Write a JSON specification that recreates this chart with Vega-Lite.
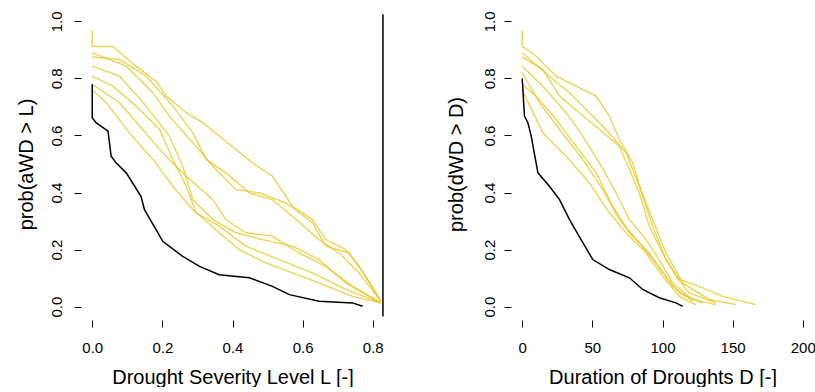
{
  "$schema": "https://vega.github.io/schema/vega-lite/v6.json",
  "padding": {"left": 15, "top": 10, "right": 0, "bottom": 0},
  "background": "white",
  "spacing": 62,
  "config": {
    "view": {"stroke": null},
    "font": "Liberation Sans",
    "axis": {
      "domain": false, "grid": false, "tickColor": "black", "tickSize": 7, "tickWidth": 1,
      "labelColor": "black", "titleColor": "black", "labelFontSize": 15, "titleFontSize": 20,
      "titleFontWeight": "normal", "labelFont": "Liberation Sans", "titleFont": "Liberation Sans"
    }
  },
  "datasets": {
    "sev": [
      {"c":"s1","x":0,"p":0.97},{"c":"s1","x":0,"p":0.913},{"c":"s1","x":0.059,"p":0.912},{"c":"s1","x":0.125,"p":0.843},{"c":"s1","x":0.182,"p":0.79},{"c":"s1","x":0.211,"p":0.738},{"c":"s1","x":0.268,"p":0.68},{"c":"s1","x":0.315,"p":0.645},{"c":"s1","x":0.362,"p":0.598},{"c":"s1","x":0.457,"p":0.504},{"c":"s1","x":0.514,"p":0.457},{"c":"s1","x":0.571,"p":0.352},{"c":"s1","x":0.628,"p":0.305},{"c":"s1","x":0.666,"p":0.235},{"c":"s1","x":0.723,"p":0.2},{"c":"s1","x":0.761,"p":0.141},{"c":"s1","x":0.823,"p":0.019},
      {"c":"s2","x":0,"p":0.89},{"c":"s2","x":0.097,"p":0.843},{"c":"s2","x":0.173,"p":0.75},{"c":"s2","x":0.22,"p":0.668},{"c":"s2","x":0.296,"p":0.562},{"c":"s2","x":0.344,"p":0.492},{"c":"s2","x":0.41,"p":0.41},{"c":"s2","x":0.476,"p":0.399},{"c":"s2","x":0.552,"p":0.364},{"c":"s2","x":0.628,"p":0.294},{"c":"s2","x":0.666,"p":0.212},{"c":"s2","x":0.733,"p":0.188},{"c":"s2","x":0.78,"p":0.106},{"c":"s2","x":0.823,"p":0.018},
      {"c":"s3","x":0,"p":0.843},{"c":"s3","x":0.078,"p":0.808},{"c":"s3","x":0.154,"p":0.703},{"c":"s3","x":0.22,"p":0.598},{"c":"s3","x":0.258,"p":0.492},{"c":"s3","x":0.287,"p":0.375},{"c":"s3","x":0.344,"p":0.305},{"c":"s3","x":0.41,"p":0.259},{"c":"s3","x":0.486,"p":0.235},{"c":"s3","x":0.571,"p":0.212},{"c":"s3","x":0.647,"p":0.165},{"c":"s3","x":0.723,"p":0.083},{"c":"s3","x":0.823,"p":0.013},
      {"c":"s4","x":0,"p":0.808},{"c":"s4","x":0.059,"p":0.773},{"c":"s4","x":0.125,"p":0.703},{"c":"s4","x":0.192,"p":0.621},{"c":"s4","x":0.23,"p":0.516},{"c":"s4","x":0.268,"p":0.422},{"c":"s4","x":0.296,"p":0.329},{"c":"s4","x":0.362,"p":0.282},{"c":"s4","x":0.438,"p":0.212},{"c":"s4","x":0.533,"p":0.165},{"c":"s4","x":0.628,"p":0.118},{"c":"s4","x":0.723,"p":0.06},{"c":"s4","x":0.823,"p":0.013},
      {"c":"s5","x":0,"p":0.78},{"c":"s5","x":0.078,"p":0.715},{"c":"s5","x":0.144,"p":0.621},{"c":"s5","x":0.201,"p":0.539},{"c":"s5","x":0.268,"p":0.457},{"c":"s5","x":0.344,"p":0.375},{"c":"s5","x":0.381,"p":0.305},{"c":"s5","x":0.438,"p":0.259},{"c":"s5","x":0.514,"p":0.247},{"c":"s5","x":0.59,"p":0.188},{"c":"s5","x":0.666,"p":0.141},{"c":"s5","x":0.742,"p":0.071},{"c":"s5","x":0.823,"p":0.012},
      {"c":"s6","x":0,"p":0.875},{"c":"s6","x":0.078,"p":0.867},{"c":"s6","x":0.154,"p":0.808},{"c":"s6","x":0.23,"p":0.703},{"c":"s6","x":0.287,"p":0.609},{"c":"s6","x":0.325,"p":0.516},{"c":"s6","x":0.381,"p":0.469},{"c":"s6","x":0.448,"p":0.399},{"c":"s6","x":0.514,"p":0.375},{"c":"s6","x":0.571,"p":0.317},{"c":"s6","x":0.647,"p":0.235},{"c":"s6","x":0.704,"p":0.188},{"c":"s6","x":0.761,"p":0.118},{"c":"s6","x":0.823,"p":0.019},
      {"c":"s7","x":0,"p":0.76},{"c":"s7","x":0.04,"p":0.715},{"c":"s7","x":0.106,"p":0.609},{"c":"s7","x":0.173,"p":0.516},{"c":"s7","x":0.23,"p":0.422},{"c":"s7","x":0.287,"p":0.34},{"c":"s7","x":0.362,"p":0.259},{"c":"s7","x":0.419,"p":0.2},{"c":"s7","x":0.495,"p":0.153},{"c":"s7","x":0.571,"p":0.118},{"c":"s7","x":0.647,"p":0.083},{"c":"s7","x":0.742,"p":0.036},{"c":"s7","x":0.823,"p":0.013},
      {"c":"obs","x":0,"p":0.78},{"c":"obs","x":0,"p":0.662},{"c":"obs","x":0.011,"p":0.645},{"c":"obs","x":0.045,"p":0.615},{"c":"obs","x":0.054,"p":0.527},{"c":"obs","x":0.068,"p":0.504},{"c":"obs","x":0.097,"p":0.469},{"c":"obs","x":0.139,"p":0.387},{"c":"obs","x":0.149,"p":0.34},{"c":"obs","x":0.187,"p":0.259},{"c":"obs","x":0.201,"p":0.229},{"c":"obs","x":0.258,"p":0.176},{"c":"obs","x":0.306,"p":0.141},{"c":"obs","x":0.362,"p":0.112},{"c":"obs","x":0.448,"p":0.101},{"c":"obs","x":0.514,"p":0.071},{"c":"obs","x":0.562,"p":0.042},{"c":"obs","x":0.647,"p":0.019},{"c":"obs","x":0.742,"p":0.013},{"c":"obs","x":0.771,"p":0.001},
      {"c":"max","x":0.829,"p":1.025},{"c":"max","x":0.829,"p":-0.035}
    ],
    "dur": [
      {"c":"s1","x":0,"p":0.97},{"c":"s1","x":0,"p":0.913},{"c":"s1","x":10,"p":0.878},{"c":"s1","x":24.2,"p":0.808},{"c":"s1","x":38.4,"p":0.773},{"c":"s1","x":52.7,"p":0.738},{"c":"s1","x":62.1,"p":0.668},{"c":"s1","x":69.3,"p":0.586},{"c":"s1","x":78.8,"p":0.504},{"c":"s1","x":85.9,"p":0.387},{"c":"s1","x":93,"p":0.282},{"c":"s1","x":102.5,"p":0.165},{"c":"s1","x":112,"p":0.095},{"c":"s1","x":126.2,"p":0.071},{"c":"s1","x":142.8,"p":0.036},{"c":"s1","x":166.5,"p":0.007},
      {"c":"s2","x":0,"p":0.89},{"c":"s2","x":19.4,"p":0.808},{"c":"s2","x":33.7,"p":0.75},{"c":"s2","x":47.9,"p":0.68},{"c":"s2","x":59.8,"p":0.621},{"c":"s2","x":74,"p":0.539},{"c":"s2","x":83.5,"p":0.422},{"c":"s2","x":93,"p":0.305},{"c":"s2","x":102.5,"p":0.188},{"c":"s2","x":114.4,"p":0.083},{"c":"s2","x":133.3,"p":0.025},{"c":"s2","x":152.3,"p":0.007},
      {"c":"s3","x":0,"p":0.843},{"c":"s3","x":14.7,"p":0.773},{"c":"s3","x":31.3,"p":0.68},{"c":"s3","x":43.2,"p":0.598},{"c":"s3","x":55,"p":0.504},{"c":"s3","x":66.9,"p":0.399},{"c":"s3","x":76.4,"p":0.305},{"c":"s3","x":88.3,"p":0.235},{"c":"s3","x":97.7,"p":0.165},{"c":"s3","x":107.3,"p":0.083},{"c":"s3","x":121.5,"p":0.025},{"c":"s3","x":138,"p":0.007},
      {"c":"s4","x":0,"p":0.78},{"c":"s4","x":10,"p":0.738},{"c":"s4","x":24.2,"p":0.656},{"c":"s4","x":38.4,"p":0.562},{"c":"s4","x":52.7,"p":0.469},{"c":"s4","x":64.6,"p":0.352},{"c":"s4","x":76.4,"p":0.259},{"c":"s4","x":90.6,"p":0.188},{"c":"s4","x":100.1,"p":0.118},{"c":"s4","x":112,"p":0.048},{"c":"s4","x":128.6,"p":0.013},
      {"c":"s5","x":0,"p":0.76},{"c":"s5","x":14.7,"p":0.609},{"c":"s5","x":31.3,"p":0.527},{"c":"s5","x":47.9,"p":0.434},{"c":"s5","x":62.1,"p":0.329},{"c":"s5","x":74,"p":0.259},{"c":"s5","x":88.3,"p":0.188},{"c":"s5","x":100.1,"p":0.106},{"c":"s5","x":112,"p":0.036},{"c":"s5","x":123.8,"p":0.007},
      {"c":"s6","x":0,"p":0.875},{"c":"s6","x":14.7,"p":0.832},{"c":"s6","x":26.6,"p":0.738},{"c":"s6","x":40.8,"p":0.68},{"c":"s6","x":55,"p":0.621},{"c":"s6","x":69.3,"p":0.562},{"c":"s6","x":76.4,"p":0.481},{"c":"s6","x":83.5,"p":0.399},{"c":"s6","x":90.6,"p":0.282},{"c":"s6","x":100.1,"p":0.188},{"c":"s6","x":109.6,"p":0.106},{"c":"s6","x":119.1,"p":0.048},{"c":"s6","x":138,"p":0.013},
      {"c":"s7","x":0,"p":0.82},{"c":"s7","x":12.3,"p":0.715},{"c":"s7","x":26.6,"p":0.621},{"c":"s7","x":43.2,"p":0.516},{"c":"s7","x":57.4,"p":0.41},{"c":"s7","x":69.3,"p":0.305},{"c":"s7","x":83.5,"p":0.224},{"c":"s7","x":95.4,"p":0.153},{"c":"s7","x":107.3,"p":0.071},{"c":"s7","x":121.5,"p":0.019},
      {"c":"obs","x":0,"p":0.8},{"c":"obs","x":1.6,"p":0.668},{"c":"obs","x":4,"p":0.645},{"c":"obs","x":6.4,"p":0.598},{"c":"obs","x":11.2,"p":0.469},{"c":"obs","x":19.4,"p":0.422},{"c":"obs","x":26.6,"p":0.375},{"c":"obs","x":33.7,"p":0.305},{"c":"obs","x":43.2,"p":0.224},{"c":"obs","x":50.3,"p":0.165},{"c":"obs","x":62.1,"p":0.13},{"c":"obs","x":76.4,"p":0.101},{"c":"obs","x":85.9,"p":0.06},{"c":"obs","x":97.7,"p":0.031},{"c":"obs","x":109.6,"p":0.013},{"c":"obs","x":114.4,"p":0.001}
    ]
  },
  "hconcat": [
    {
      "width": 303, "height": 308,
      "data": {"name": "sev"},
      "layer": [
        {
          "transform": [{"filter": "datum.c != 'obs' && datum.c != 'max'"}],
          "mark": {"type": "line", "color": "#e4c61c", "strokeWidth": 1.4, "opacity": 0.75, "clip": true},
          "encoding": {
            "x": {"field": "x", "type": "quantitative", "scale": {"domain": [-0.032, 0.832], "nice": false, "zero": false},
                  "axis": {"values": [0, 0.2, 0.4, 0.6, 0.8], "format": ".1f", "title": "Drought Severity Level L [-]", "offset": 2, "labelPadding": 13, "titlePadding": 12}},
            "y": {"field": "p", "type": "quantitative", "scale": {"domain": [-0.04, 1.04], "nice": false, "zero": false},
                  "axis": {"values": [0, 0.2, 0.4, 0.6, 0.8, 1.0], "format": ".1f", "title": "prob(aWD > L)", "labelAngle": 270, "labelAlign": "center", "labelBaseline": "bottom", "labelPadding": 10, "titlePadding": 13}},
            "detail": {"field": "c"},
            "order": {"field": "p", "sort": "descending"}
          }
        },
        {
          "transform": [{"filter": "datum.c == 'obs' || datum.c == 'max'"}],
          "mark": {"type": "line", "color": "black", "strokeWidth": 1.5, "clip": true},
          "encoding": {
            "x": {"field": "x", "type": "quantitative"},
            "y": {"field": "p", "type": "quantitative"},
            "detail": {"field": "c"},
            "order": {"field": "p", "sort": "descending"}
          }
        }
      ]
    },
    {
      "width": 303, "height": 308,
      "data": {"name": "dur"},
      "layer": [
        {
          "transform": [{"filter": "datum.c != 'obs'"}],
          "mark": {"type": "line", "color": "#e4c61c", "strokeWidth": 1.4, "opacity": 0.75, "clip": true},
          "encoding": {
            "x": {"field": "x", "type": "quantitative", "scale": {"domain": [-8, 208], "nice": false, "zero": false},
                  "axis": {"values": [0, 50, 100, 150, 200], "format": "d", "title": "Duration of Droughts D [-]", "offset": 2, "labelPadding": 13, "titlePadding": 12}},
            "y": {"field": "p", "type": "quantitative", "scale": {"domain": [-0.04, 1.04], "nice": false, "zero": false},
                  "axis": {"values": [0, 0.2, 0.4, 0.6, 0.8, 1.0], "format": ".1f", "title": "prob(dWD > D)", "labelAngle": 270, "labelAlign": "center", "labelBaseline": "bottom", "labelPadding": 7, "titlePadding": 16}},
            "detail": {"field": "c"},
            "order": {"field": "p", "sort": "descending"}
          }
        },
        {
          "transform": [{"filter": "datum.c == 'obs'"}],
          "mark": {"type": "line", "color": "black", "strokeWidth": 1.5, "clip": true},
          "encoding": {
            "x": {"field": "x", "type": "quantitative"},
            "y": {"field": "p", "type": "quantitative"},
            "detail": {"field": "c"},
            "order": {"field": "p", "sort": "descending"}
          }
        }
      ]
    }
  ]
}
